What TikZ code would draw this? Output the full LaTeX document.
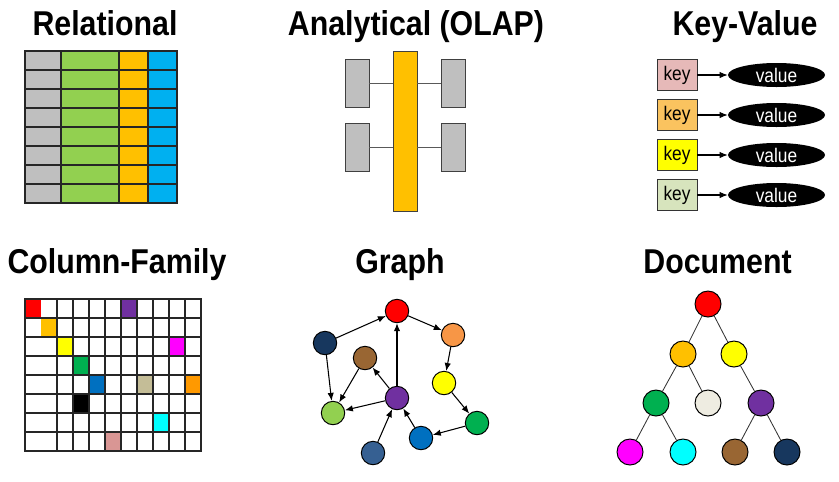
\documentclass[tikz,border=0pt]{standalone}
\usepackage{fontspec}
\setmainfont{Liberation Sans}
\newfontfamily\titlefont[FakeStretch=0.88]{Liberation Sans}
\usetikzlibrary{arrows.meta,shapes.geometric}

\definecolor{tabgray}{HTML}{BFBFBF}
\definecolor{tabgreen}{HTML}{92D050}
\definecolor{tabamber}{HTML}{FFC000}
\definecolor{tabblue}{HTML}{00B0F0}
\definecolor{tabline}{HTML}{262626}
\definecolor{keypink}{HTML}{E6B9B8}
\definecolor{keyorange}{HTML}{FAC35F}
\definecolor{keyyellow}{HTML}{FFFF00}
\definecolor{keygreen}{HTML}{D7E4BD}
\definecolor{cfred}{HTML}{FF0000}
\definecolor{cfpurple}{HTML}{7030A0}
\definecolor{cfmagenta}{HTML}{FF00FF}
\definecolor{cfgreen}{HTML}{00B050}
\definecolor{cfblue}{HTML}{0070C0}
\definecolor{cftan}{HTML}{C4BD97}
\definecolor{cforange}{HTML}{FF9900}
\definecolor{cfcyan}{HTML}{00FFFF}
\definecolor{cfpink}{HTML}{D99694}
\definecolor{grorange}{HTML}{F79646}
\definecolor{grnavy}{HTML}{17375E}
\definecolor{grbrown}{HTML}{996633}
\definecolor{grlime}{HTML}{92D050}
\definecolor{grsteel}{HTML}{366092}
\definecolor{docbeige}{HTML}{EEECE1}

\def\cell(#1,#2)#3{\fill[#3] ({25+16*#1},{299+19*#2}) rectangle ++(16,19);}

\tikzset{
  title/.style={font=\titlefont\bfseries\fontsize{24.5}{28}\selectfont, anchor=base, inner sep=0},
  olapbox/.style={draw=black!75, fill=tabgray, line width=0.6pt, minimum width=0.6cm, minimum height=1.2cm, inner sep=0},
  keybox/.style={draw=black!80, line width=0.6pt, minimum width=1cm, minimum height=0.775cm, inner sep=0, font=\titlefont\fontsize{14}{16}\selectfont},
  valnode/.style={ellipse, fill=black, text=white, minimum width=2.425cm, minimum height=0.6cm, inner sep=0, font=\titlefont\fontsize{14}{16}\selectfont},
  grnode/.style={circle, draw=black, line width=0.7pt, minimum size=0.585cm, inner sep=0},
  docnode/.style={circle, draw=black, line width=0.7pt, minimum size=0.65cm, inner sep=0},
  arr/.style={-{Latex[length=2mm,width=1.6mm]}, line width=0.75pt}
}

\begin{document}
\begin{tikzpicture}[x=0.025cm, y=-0.025cm]
			%%%%% START %%%%%
			\useasboundingbox (0, 0) rectangle (839, 481);
			
			% Relational
			\node[title] (reltitle) at (105, 35) {Relational};
			\fill[tabgray] (25, 51) rectangle (61, 203);
			\fill[tabgreen] (61, 51) rectangle (119, 203);
			\fill[tabamber] (119, 51) rectangle (148, 203);
			\fill[tabblue] (148, 51) rectangle (177, 203);
			\draw[line width=1pt, color=tabline] (25, 51) rectangle (177, 203);
			\draw[line width=1pt, color=tabline] (61, 51) -- (61, 203) (119, 51) -- (119, 203) (148, 51) -- (148, 203);
			\draw[line width=1pt, color=tabline] (25, 70) -- (177, 70) (25, 89) -- (177, 89) (25, 108) -- (177, 108)
			  (25, 127) -- (177, 127) (25, 146) -- (177, 146) (25, 165) -- (177, 165) (25, 184) -- (177, 184);
			
			% Analytical (OLAP)
			\node[title] (olaptitle) at (416, 35) {Analytical (OLAP)};
			\node[olapbox, fill=tabamber, minimum height=4cm] (fact) at (405, 131) {};
			\node[olapbox] (dimA) at (357, 83) {};
			\node[olapbox] (dimB) at (357, 147) {};
			\node[olapbox] (dimC) at (453, 83) {};
			\node[olapbox] (dimD) at (453, 147) {};
			\draw[line width=0.5pt, color=black!65] (dimA.east) -- (dimA.east -| fact.west);
			\draw[line width=0.5pt, color=black!65] (dimB.east) -- (dimB.east -| fact.west);
			\draw[line width=0.5pt, color=black!65] (dimC.west) -- (dimC.west -| fact.east);
			\draw[line width=0.5pt, color=black!65] (dimD.west) -- (dimD.west -| fact.east);
			
			% Key-Value
			\node[title] (kvtitle) at (745, 35) {Key-Value};
			\node[keybox, fill=keypink] (keyA) at (677, 75) {key};
			\node[keybox, fill=keyorange] (keyB) at (677, 115) {key};
			\node[keybox, fill=keyyellow] (keyC) at (677, 155) {key};
			\node[keybox, fill=keygreen] (keyD) at (677, 195) {key};
			\node[valnode] (valA) at (776.5, 75) {value};
			\node[valnode] (valB) at (776.5, 115) {value};
			\node[valnode] (valC) at (776.5, 155) {value};
			\node[valnode] (valD) at (776.5, 195) {value};
			\draw[arr] (keyA) -- (valA);
			\draw[arr] (keyB) -- (valB);
			\draw[arr] (keyC) -- (valC);
			\draw[arr] (keyD) -- (valD);
			
			% Column-Family
			\node[title] (cftitle) at (117, 273) {Column-Family};
			\cell(0,0){cfred} \cell(6,0){cfpurple}
			\cell(1,1){tabamber}
			\cell(2,2){keyyellow} \cell(9,2){cfmagenta}
			\cell(3,3){cfgreen}
			\cell(4,4){cfblue} \cell(7,4){cftan} \cell(10,4){cforange}
			\cell(3,5){black}
			\cell(8,6){cfcyan}
			\cell(5,7){cfpink}
			\draw[line width=1pt, color=tabline] (25, 299) rectangle (201, 451);
			\draw[line width=1pt, color=tabline] (57, 299) -- (57, 451) (73, 299) -- (73, 451) (89, 299) -- (89, 451)
			  (105, 299) -- (105, 451) (121, 299) -- (121, 451) (137, 299) -- (137, 451) (153, 299) -- (153, 451)
			  (169, 299) -- (169, 451) (185, 299) -- (185, 451);
			\draw[line width=1pt, color=tabline] (25, 318) -- (201, 318) (25, 337) -- (201, 337) (25, 356) -- (201, 356)
			  (25, 375) -- (201, 375) (25, 394) -- (201, 394) (25, 413) -- (201, 413) (25, 432) -- (201, 432);
			
			% Graph
			\node[title] (grtitle) at (400, 273) {Graph};
			\node[grnode, fill=cfred] (gred) at (397, 311) {};
			\node[grnode, fill=grorange] (gorange) at (453, 335) {};
			\node[grnode, fill=grnavy] (gnavy) at (325, 343) {};
			\node[grnode, fill=grbrown] (gbrown) at (365, 358) {};
			\node[grnode, fill=keyyellow] (gyellow) at (444, 383) {};
			\node[grnode, fill=cfpurple] (gpurple) at (397, 398) {};
			\node[grnode, fill=grlime] (glime) at (333, 413) {};
			\node[grnode, fill=cfgreen] (ggreen) at (477, 423) {};
			\node[grnode, fill=cfblue] (gblue) at (421, 438) {};
			\node[grnode, fill=grsteel] (gsteel) at (373, 453) {};
			\draw[arr] (gnavy) -- (gred);
			\draw[arr] (gred) -- (gorange);
			\draw[arr] (gorange) -- (gyellow);
			\draw[arr] (gyellow) -- (ggreen);
			\draw[arr] (ggreen) -- (gblue);
			\draw[arr] (gblue) -- (gpurple);
			\draw[arr] (gpurple) -- (gred);
			\draw[arr] (gpurple) -- (gbrown);
			\draw[arr] (gpurple) -- (glime);
			\draw[arr] (gbrown) -- (glime);
			\draw[arr] (gnavy) -- (glime);
			\draw[arr] (gsteel) -- (gpurple);
			
			% Document
			\node[title] (doctitle) at (717.5, 273) {Document};
			\node[docnode, fill=cfred] (dred) at (708, 304) {};
			\node[docnode, fill=tabamber] (damber) at (683, 354) {};
			\node[docnode, fill=keyyellow] (dyellow) at (734, 354) {};
			\node[docnode, fill=cfgreen] (dgreen) at (656, 403) {};
			\node[docnode, fill=docbeige] (dbeige) at (708, 403) {};
			\node[docnode, fill=cfpurple] (dpurple) at (761, 403) {};
			\node[docnode, fill=cfmagenta] (dmagenta) at (630, 452) {};
			\node[docnode, fill=cfcyan] (dcyan) at (683, 452) {};
			\node[docnode, fill=grbrown] (dbrown) at (735, 452) {};
			\node[docnode, fill=grnavy] (dnavy) at (787, 452) {};
			\draw[line width=0.6pt, color=black!80] (dred) -- (damber) (dred) -- (dyellow);
			\draw[line width=0.6pt, color=black!80] (damber) -- (dgreen) (damber) -- (dbeige) (dyellow) -- (dpurple);
			\draw[line width=0.6pt, color=black!80] (dgreen) -- (dmagenta) (dgreen) -- (dcyan);
			\draw[line width=0.6pt, color=black!80] (dpurple) -- (dbrown) (dpurple) -- (dnavy);
			
			%%%%% END %%%%%
\end{tikzpicture}
\end{document}
